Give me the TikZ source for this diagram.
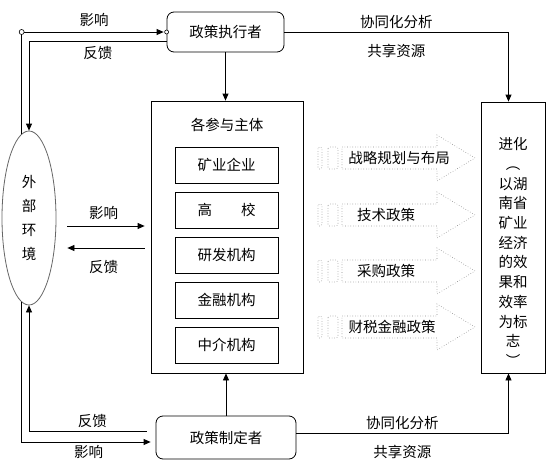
\documentclass[tikz,border=0pt]{standalone}
\usepackage{fontspec}
\setmainfont{Noto Sans CJK SC}
\usetikzlibrary{arrows.meta,shapes.geometric,calc}

\begin{document}
\begin{tikzpicture}[x=1pt, y=-1pt,
    font=\fontsize{14.5}{17}\selectfont,
    role/.style={draw, rounded corners=7pt, line width=0.8pt, inner sep=0pt},
    frame/.style={draw, line width=0.8pt, inner sep=0pt},
    unit/.style={draw, line width=0.8pt, minimum width=103pt, minimum height=36pt, inner sep=0pt},
    arr/.style={-{Triangle[length=7pt,width=6pt]}, line width=0.8pt},
    stripe/.style={draw=black!45, dotted, line width=0.6pt},
    lbl/.style={inner sep=0pt}
]
\useasboundingbox (0,0) rectangle (547,471);

\node[role, minimum width=117pt, minimum height=40pt] (exec) at (225.5,32) {政策执行者};
\node[role, minimum width=140pt, minimum height=43pt] (make) at (226,437.5) {政策制定者};
\node[draw=black!60, line width=0.8pt, ellipse, minimum width=54pt, minimum height=174pt, inner sep=0pt,
      align=center, font=\fontsize{14.5}{24}\selectfont] (env) at (29,218) {外\\部\\环\\境};

% participants
\node[frame, minimum width=152pt, minimum height=272pt] (actors) at (227,237) {};
\node[lbl] (actortitle) at (227,125) {各参与主体};
\foreach \name [count=\i] in {矿业企业,高\hspace{2em}校,研发机构,金融机构,中介机构}
  \node[unit] (a\i) at (226.5,120+45*\i) {\name};

% evolution
\node[frame, minimum width=64pt, minimum height=271pt] (evo) at (513.5,237.5) {};
\node[lbl, align=center, font=\fontsize{14.5}{19.7}\selectfont] (evotext) at (513,252)
  {进化\\︵\\以湖\\南省\\矿业\\经济\\的效\\果和\\效率\\为标\\志\\︶};
\coordinate (evoin) at ([xshift=-5pt]evo.north);
\coordinate (evoout) at ([xshift=-5pt]evo.south);

% policy arrows
\foreach \y/\txt/\tx [count=\i] in {158/战略规划与布局/399,215/技术政策/386,271/采购政策/386,327/财税金融政策/392}{
  \draw[stripe] (342,\y-11) -- (437,\y-11) -- (437,\y-23) -- (475,\y) -- (437,\y+23) -- (437,\y+11) -- (342,\y+11) -- cycle;
  \draw[stripe, rounded corners=1.5pt] (318,\y-11) rectangle (322,\y+11);
  \draw[stripe, rounded corners=1.5pt] (328,\y-11) rectangle (338,\y+11);
  \node[lbl] (p\i) at (\tx,\y) {\txt};
}

% connectors
\coordinate (tl) at (env.95 |- exec.west);
\draw[arr, shorten >=3pt] (env.95) |- node[lbl, pos=0.75, above=5pt] {影响} (exec.west);
\draw[line width=0.6pt, fill=white] (tl) circle (2.5pt);
\draw[line width=0.6pt, fill=white] (exec.west) circle (2pt);
\draw[arr] ([yshift=-9pt]exec.west) -| node[lbl, pos=0.25, below=5pt] {反馈} (env.north);

\draw[arr, shorten >=5pt] (env.265) |- node[lbl, pos=0.75, below=3pt] {影响} ([yshift=-4.5pt]make.west);
\draw[arr, shorten <=9pt] ([yshift=6.5pt]make.west) -| node[lbl, pos=0.25, above=3pt] {反馈} (env.south);

\draw[arr, shorten <=11pt, shorten >=6pt] ([yshift=-8pt]env.east) -- node[lbl, above=6pt] {影响} ([yshift=-8pt]env.east -| actors.west);
\draw[arr, shorten <=6pt, shorten >=11pt] ([yshift=-30pt]env.east -| actors.west) -- node[lbl, below=12pt] {反馈} ([yshift=-30pt]env.east);

\draw[arr] (exec.south) -- (exec.south |- actors.north);
\draw[arr] (make.north) -- (make.north |- actors.south);

\draw[arr] (exec.east) -| node[lbl, pos=0.25, above=3pt] {协同化分析} node[lbl, pos=0.25, below=12pt] {共享资源} (evoin);
\draw[arr] ([yshift=4.5pt]make.east) -| node[lbl, pos=0.25, above=3pt] {协同化分析} node[lbl, pos=0.25, below=12pt] {共享资源} (evoout);
\end{tikzpicture}
\end{document}
